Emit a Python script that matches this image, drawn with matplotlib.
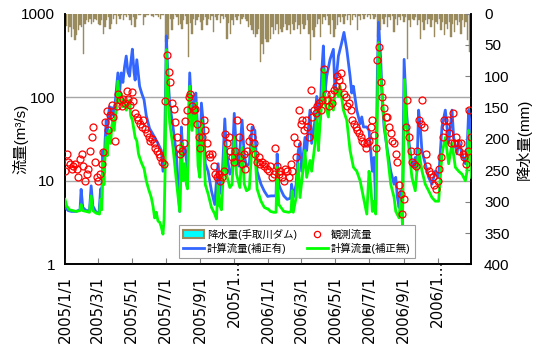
import numpy as np
import matplotlib
matplotlib.use('Agg')
import matplotlib.pyplot as plt
from matplotlib.patches import Patch
from matplotlib.lines import Line2D
from matplotlib.ticker import NullLocator

plt.rcParams['font.family'] = ['Liberation Sans', 'Noto Sans CJK JP']

# 2005/1/1 からの経過日数で扱う
START = np.datetime64('2005-01-01')
STEP = 3  # 降水量・観測流量は3日おきに読み取り

# 降水量(手取川ダム) mm
rain_mm = [
    10, 20, 29, 21, 37, 24, 42, 34, 26, 18,
    21, 64, 16, 10, 13, 8, 16, 13, 8, 10,
    16, 18, 10, 32, 21, 10, 5, 24, 16, 8,
    3, 16, 4, 8, 2, 10, 3, 5, 2, 10,
    18, 6, 21, 8, 2, 3, 0, 18, 5, 3,
    2, 0, 4, 5, 2, 3, 6, 8, 2, 3,
    45, 45, 40, 8, 26, 8, 3, 6, 18, 16,
    24, 10, 4, 16, 69, 15, 32, 8, 18, 10,
    6, 13, 26, 10, 5, 18, 8, 10, 4, 29,
    6, 10, 3, 15, 4, 8, 5, 40, 15, 32,
    10, 18, 6, 10, 4, 16, 8, 5, 8, 12,
    21, 18, 26, 32, 37, 32, 24, 77, 48, 64,
    40, 45, 45, 40, 21, 32, 26, 16, 32, 24,
    29, 21, 16, 26, 18, 32, 16, 26, 13, 24,
    18, 32, 16, 24, 18, 10, 32, 74, 26, 37,
    21, 16, 8, 37, 16, 6, 10, 4, 18, 32,
    10, 37, 24, 18, 5, 13, 6, 16, 4, 10,
    3, 18, 10, 3, 5, 26, 4, 10, 3, 8,
    2, 5, 3, 8, 2, 8, 5, 37, 37, 26,
    8, 16, 5, 21, 6, 10, 4, 29, 8, 18,
    5, 10, 4, 13, 6, 72, 10, 21, 8, 10,
    5, 18, 10, 40, 13, 26, 10, 16, 8, 21,
    10, 37, 13, 16, 8, 26, 13, 34, 16, 24,
    13, 37, 16, 29, 10, 18, 13, 32, 10, 21,
    13, 42, 61, 45,
]

# 観測流量 m3/s (月ごと)
obs_q = [
    13, 21, 17, 16, 14, 15, 16, 14, 11, 18, 21,      # 2005/1
    15, 10, 12, 14, 23, 33, 44, 17, 11,              # 2
    10, 12, 16, 22, 50, 68, 40, 62, 80, 58,          # 3
    30, 78, 110, 92, 78, 95, 85, 120, 95, 80,        # 4
    115, 90, 64, 58, 53, 48, 44, 53, 42, 37, 33,     # 5
    30, 32, 28, 25, 23, 21, 19, 17, 16, 90,          # 6
    320, 200, 150, 85, 72, 50, 33, 25, 21, 23,       # 7
    28, 52, 70, 100, 110, 78, 70, 72, 48, 33,        # 8
    25, 33, 53, 40, 28, 21, 19, 21, 15, 12,          # 9
    11, 12, 10, 11, 13, 36, 28, 33, 23, 19, 17,      # 10
    23, 53, 33, 19, 16, 21, 14, 23, 30, 44,          # 11
    33, 28, 21, 17, 19, 16, 17, 15, 16, 14,          # 12
    13, 15, 11, 12, 25, 15, 12, 13, 11, 10,          # 2006/1
    14, 13, 11, 16, 13, 33, 19, 28, 70, 48,          # 2
    53, 40, 53, 44, 33, 122, 58, 70, 64, 78,         # 3
    85, 70, 93, 215, 110, 93, 78, 110, 85, 122,      # 4
    135, 180, 160, 195, 135, 110, 100, 78, 85, 70,   # 5
    53, 48, 44, 40, 37, 33, 30, 28, 25, 28,          # 6
    30, 44, 53, 35, 25, 280, 400, 150, 100, 75, 58,  # 7
    58, 44, 37, 30, 28, 21, 17, 9, 7, 4,             # 8
    6, 44, 93, 33, 23, 17, 16, 15, 23, 53,           # 9
    48, 93, 44, 21, 15, 13, 12, 11, 9, 8,            # 10
    10, 14, 19, 33, 53, 44, 53, 37, 28, 64,          # 11
    28, 33, 28, 23, 28, 21, 19, 16, 23, 70, 33,      # 12
]

# 計算流量(補正有)
cor_day = [
    0, 6, 12, 20, 27, 29, 32, 38, 44, 47,
    50, 56, 61, 64, 66, 68, 70, 72, 74, 76,
    78, 80, 82, 84, 86, 88, 92, 95, 98, 101,
    104, 107, 110, 113, 116, 118, 121, 124, 126, 129,
    132, 134, 138, 142, 146, 152, 156, 161, 167, 173,
    176, 179, 182, 185, 188, 194, 200, 206, 209, 212,
    215, 218, 220, 224, 228, 232, 235, 239, 242, 245,
    249, 252, 257, 263, 269, 272, 275, 278, 281, 287,
    290, 296, 300, 304, 308, 312, 318, 322, 326, 331,
    336, 341, 345, 352, 358, 364,
    370, 375, 379, 381, 384, 387, 393, 399, 405, 407,
    410, 415, 419, 422, 425, 428, 431, 434, 440, 443,
    449, 452, 458, 461, 464, 467, 470, 476, 482, 485,
    488, 491, 497, 501, 506, 512, 515, 518, 524, 530,
    533, 536, 542, 546, 552, 555, 558, 561, 563, 567,
    570, 573, 579, 585, 591, 594, 597, 600, 603, 606,
    609, 613, 618, 622, 626, 629, 632, 635, 638, 641,
    647, 653, 659, 665, 671, 677, 683, 689, 695, 698,
    704, 707, 713, 719, 722, 725, 728, 730,
]
cor_q = [
    4.8, 4.4, 4.3, 4.3, 4.5, 7.9, 4.8, 4.4, 4.4, 8.7,
    5.0, 4.2, 4.1, 8, 6, 23, 12, 30, 53, 35,
    60, 77, 55, 75, 70, 60, 120, 195, 112, 195,
    150, 230, 310, 200, 178, 250, 375, 200, 160, 280,
    180, 135, 110, 93, 60, 42, 38, 33, 28, 23,
    13, 25, 540, 178, 85, 44, 21, 4.3, 44, 20,
    25, 18, 14, 195, 60, 90, 112, 33, 14.5, 85,
    44, 16, 13, 7.6, 5.2, 10, 16, 9, 7, 55,
    22, 12, 14, 64, 22, 15, 53, 20, 15, 16,
    44, 40, 13, 9.1, 7.5, 6.5,
    6.6, 6.6, 6.6, 21, 9.1, 8, 6.6, 6, 6.2, 9.1,
    6.3, 9, 23, 28, 13, 21, 33, 23, 70, 28,
    53, 102, 53, 195, 410, 112, 178, 283, 374, 112,
    195, 310, 450, 595, 374, 178, 112, 135, 70, 48,
    58, 44, 44, 40, 13, 19, 5.2, 200, 785, 283,
    85, 44, 23, 13, 9.1, 11, 6.3, 4.8, 7.6, 4.3,
    283, 70, 28, 17.5, 14.5, 19, 13, 70, 44, 23,
    16, 11, 9.1, 13, 11, 44, 70, 28, 70, 33,
    21, 30, 21, 16, 23, 70, 44, 23,
]

# 計算流量(補正無)
raw_day = [
    0, 3, 8, 20, 27, 29, 32, 44, 47, 50,
    56, 62, 64, 66, 68, 70, 72, 74, 76, 78,
    80, 82, 84, 86, 88, 92, 95, 98, 101, 104,
    107, 110, 113, 116, 118, 121, 124, 126, 129, 132,
    134, 138, 142, 146, 150, 155, 158, 161, 164, 167,
    170, 173, 176, 178, 180, 182, 185, 188, 194, 200,
    206, 209, 212, 215, 218, 220, 224, 228, 232, 235,
    239, 242, 245, 249, 252, 257, 263, 269, 272, 275,
    278, 281, 287, 290, 296, 300, 304, 308, 314, 318,
    322, 326, 331, 336, 341, 345, 352, 358, 364,
    365, 369, 375, 379, 381, 384, 393, 402, 406, 408,
    410, 415, 416, 419, 422, 428, 431, 434, 440, 443,
    449, 452, 455, 458, 461, 464, 467, 473, 476, 482,
    485, 491, 494, 500, 506, 512, 518, 524, 530, 536,
    542, 546, 549, 552, 555, 558, 561, 563, 567, 573,
    579, 585, 591, 594, 600, 603, 606, 610, 613, 618,
    623, 629, 635, 641, 647, 653, 659, 665, 671, 677,
    683, 689, 695, 701, 707, 713, 719, 722, 725, 728,
    730,
]
raw_q = [
    6.0, 5.0, 4.5, 4.3, 4.4, 5.2, 4.4, 4.2, 6.6, 4.4,
    4.1, 4.0, 6, 4.5, 17, 9, 20, 33, 20, 35,
    40, 28, 45, 53, 40, 70, 155, 85, 110, 77,
    90, 70, 80, 92, 60, 53, 40, 33, 30, 21,
    19, 16, 14, 10, 8, 6.3, 5, 3.6, 4.2, 3.3,
    3.2, 2.8, 2.3, 3.5, 15, 370, 120, 50, 25, 10,
    4.3, 28, 10, 16, 9, 8, 135, 40, 60, 85,
    15, 11, 53, 25, 9, 7, 4.8, 4.0, 3.5, 9,
    5, 4.5, 28, 12, 8.3, 9, 33, 12, 8.3, 25,
    9.1, 7.6, 8, 28, 23, 8, 5.7, 4.8, 4.6,
    4.6, 4.3, 4.2, 4.2, 14.5, 5.2, 4.3, 4.2, 4.3, 7.6,
    4.2, 6.3, 8.3, 16, 6.3, 14.5, 23, 11, 17.5, 13,
    28, 70, 23, 48, 85, 214, 85, 58, 102, 70,
    123, 102, 135, 70, 53, 23, 14.5, 13, 10, 6.3,
    4.0, 13, 9.1, 4.3, 5.7, 4.0, 70, 450, 178, 53,
    21, 9.1, 6.3, 4.3, 3.6, 6.3, 3.0, 162, 53, 23,
    11, 7.6, 23, 13.2, 9.1, 7.6, 6.3, 5.7, 5.7, 21,
    33, 16, 28, 14.5, 13, 12, 10, 13, 40, 21,
    11,
]

tick_dates = np.array(['2005-01-01', '2005-03-01', '2005-05-01', '2005-07-01',
                       '2005-09-01', '2005-11-01', '2006-01-01', '2006-03-01',
                       '2006-05-01', '2006-07-01', '2006-09-01', '2006-11-01'],
                      dtype='datetime64[D]')
tick_labels = ['2005/1/1', '2005/3/1', '2005/5/1', '2005/7/1', '2005/9/1', '',
               '2006/1/1', '2006/3/1', '2006/5/1', '2006/7/1', '2006/9/1', '']
# 長すぎて省略表示されたラベル
cut_labels = {'2005-11-01': '2005/1…', '2006-11-01': '2006/1…'}

c_rain = '#998B5E'
c_cor = '#3366FF'
c_raw = '#00FF00'

rain_day = np.arange(len(rain_mm)) * STEP
obs_day = np.arange(len(obs_q)) * STEP
tick_pos = (tick_dates - START).astype(int)

fig = plt.figure(figsize=(5.37, 3.47), dpi=100)
ax = fig.add_axes([0.121, 0.238, 0.757, 0.723])
ax2 = ax.twinx()

# 降水量は上から下へ
ax2.bar(rain_day, rain_mm, width=2.4, color=c_rain, edgecolor=c_rain, linewidth=0.3)
ax2.set_ylim(400, 0)
ax2.set_yticks(range(0, 401, 50))
ax2.tick_params(axis='y', direction='in', length=4, color='#808080', pad=9, labelsize=11)
ax2.set_ylabel('降水量(mm)', fontsize=11)
ax2.yaxis.set_label_coords(1.109, 0.5)

ax.set_zorder(ax2.get_zorder() + 1)
ax.patch.set_visible(False)

ax.axhline(10, color='#a6a6a6', lw=1, zorder=1)
ax.axhline(100, color='#a6a6a6', lw=1, zorder=1)
ax.plot(cor_day, cor_q, color=c_cor, lw=2.0, zorder=3)
ax.plot(raw_day, raw_q, color=c_raw, lw=2.0, zorder=4)
ax.plot(obs_day, obs_q, ls='none', marker='o', ms=5, mfc='none', mec='#FF0000',
        mew=0.9, zorder=5)

ax.set_yscale('log')
ax.set_ylim(1, 1000)
ax.set_xlim(0, 730)
ax.set_yticks([1, 10, 100, 1000], ['1', '10', '100', '1000'])
ax.yaxis.set_minor_locator(NullLocator())
ax.tick_params(axis='y', length=0, pad=7, labelsize=11)
ax.set_xticks(tick_pos, tick_labels, family='DejaVu Sans', fontsize=10.8)
ax.tick_params(axis='x', direction='in', length=4, color='#808080', pad=8,
               labelrotation=90)
ax.set_ylabel('流量(m³/s)', fontsize=11)
ax.yaxis.set_label_coords(-0.091, 0.5)

for d, s in cut_labels.items():
    pos = (np.datetime64(d) - START).astype(int)
    ax.text(pos, 0.02, s, transform=ax.get_xaxis_transform(), rotation=90,
            ha='center', va='top', family='DejaVu Sans', fontsize=10.8, clip_on=False)

for a in (ax, ax2):
    a.spines['top'].set_visible(False)
    for s in ('left', 'right', 'bottom'):
        a.spines[s].set_linewidth(1.2)
        a.spines[s].set_color('black')

handles = [Patch(facecolor='#00FFFF', edgecolor=c_rain, lw=1.5),
           Line2D([], [], color=c_cor, lw=2),
           Line2D([], [], ls='none', marker='o', ms=4.5, mfc='none', mec='#FF0000', mew=0.9),
           Line2D([], [], color=c_raw, lw=2)]
labels = ['降水量(手取川ダム)', '計算流量(補正有)', '観測流量', '計算流量(補正無)']
leg = ax.legend(handles, labels, ncol=2, loc='lower center', bbox_to_anchor=(0.57, 0.025),
                borderaxespad=0, fontsize=7.5, frameon=True, fancybox=False,
                edgecolor='#a0a0a0', framealpha=1, handlelength=2.0, handletextpad=0.3,
                columnspacing=1.0, borderpad=0.4, labelspacing=0.3)
leg.get_frame().set_linewidth(0.8)

fig.savefig('out.png', dpi=100)
